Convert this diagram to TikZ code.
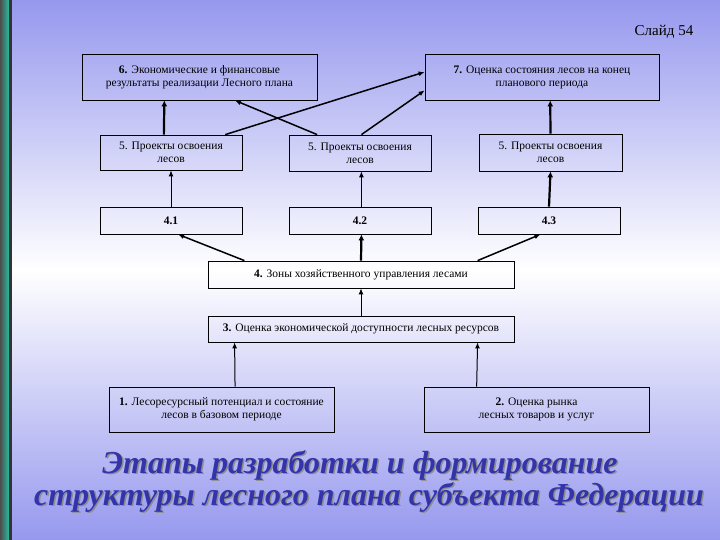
\documentclass[tikz,border=0pt]{standalone}
\usepackage{fontspec}
\setmainfont{Liberation Serif}
\usetikzlibrary{arrows.meta,calc}
\definecolor{bgblue}{RGB}{150,152,238}
\definecolor{titleblue}{RGB}{52,52,170}
\definecolor{tealA}{RGB}{40,190,160}
\tikzset{
 box/.style={draw=black,line width=0.8pt,inner sep=0pt,align=center,font=\fontsize{11.5}{13}\selectfont},
 thin/.style={line width=1pt,-{Latex[length=6pt,width=5pt]}},
 thick/.style={line width=2.2pt,-{Latex[length=6pt,width=6pt]}},
 ttl/.style={font=\fontsize{32}{34}\selectfont\bfseries\itshape}
}
\begin{document}
\begin{tikzpicture}[x=1pt,y=-1pt]
\useasboundingbox (0,0) rectangle (720,540);
\shade[top color=bgblue,bottom color=white] (0,0) rectangle (720,270);
\shade[top color=white,bottom color=bgblue] (0,270) rectangle (720,540);
\shade[left color=black!70,right color=tealA] (0,0) rectangle (9,540);
\fill[black!80] (9,0) rectangle (12,540);
\node[font=\fontsize{15}{17}\selectfont] (sl) at (664,32) {Слайд 54};
% boxes
\node[box,minimum width=235,minimum height=46] (b6) at (199.5,77) {\textbf{6.} Экономические и финансовые\\результаты реализации Лесного плана};
\node[box,minimum width=234,minimum height=46] (b7) at (542,77) {\textbf{7.} Оценка состояния лесов на конец\\планового периода};
\node[box,minimum width=142,minimum height=35] (b5a) at (171,152.5) {5. Проекты освоения\\лесов};
\node[box,minimum width=142,minimum height=36] (b5b) at (360,153) {5. Проекты освоения\\лесов};
\node[box,minimum width=143,minimum height=37] (b5c) at (550.5,152.5) {5. Проекты освоения\\лесов};
\node[box,minimum width=142,minimum height=27] (b41) at (171,220.5) {\textbf{4.1}};
\node[box,minimum width=142,minimum height=27] (b42) at (360,220.5) {\textbf{4.2}};
\node[box,minimum width=142,minimum height=27] (b43) at (549,220.5) {\textbf{4.3}};
\node[box,minimum width=306,minimum height=27] (b4) at (361,274.5) {\textbf{4.} Зоны хозяйственного управления лесами};
\node[box,minimum width=306,minimum height=26] (b3) at (361,329) {\textbf{3.} Оценка экономической доступности лесных ресурсов};
\node[box,minimum width=225,minimum height=45] (b1) at (221.5,409.5) {\textbf{1.} Лесоресурсный потенциал и состояние\\лесов в базовом периоде};
\node[box,minimum width=225,minimum height=45] (b2) at (536.5,409.5) {\textbf{2.} Оценка рынка\\лесных товаров и услуг};
% connectors
\draw[thick] ($(b5a.north west)!0.45!(b5a.north east)$) -- ($(b6.south west)!0.351!(b6.south east)$);
\draw[thin,line width=1.5pt] ($(b5a.north west)!0.88!(b5a.north east)$) -- ($(b7.west)+(0,-5)$);
\draw[thin,line width=1.5pt] ($(b5b.north west)!0.2!(b5b.north east)$) -- ($(b6.south west)!0.65!(b6.south east)$);
\draw[thin,line width=1.5pt] ($(b5b.north west)!0.51!(b5b.north east)$) -- ($(b7.south west)+(0,-10)$);
\draw[thick] ($(b5c.north west)!0.5!(b5c.north east)$) -- ($(b7.south west)!0.535!(b7.south east)$);
\draw[thin] (b41.north) -- (b5a.south);
\draw[thin] ($(b42.north west)!0.51!(b42.north east)$) -- ($(b5b.south west)!0.51!(b5b.south east)$);
\draw[thick] (b43.north) -- (b5c.south);
\draw[thin,line width=1.5pt] ($(b4.north west)!0.12!(b4.north east)$) -- ($(b41.south west)!0.55!(b41.south east)$);
\draw[thick] (b4.north) -- ($(b42.south west)!0.51!(b42.south east)$);
\draw[thin,line width=1.5pt] ($(b4.north west)!0.88!(b4.north east)$) -- ($(b43.south west)!0.44!(b43.south east)$);
\draw[thin] (b3.north) -- (b4.south);
\draw[thin] ($(b1.north west)!0.56!(b1.north east)$) -- ($(b3.south west)!0.088!(b3.south east)$);
\draw[thin] ($(b2.north west)!0.235!(b2.north east)$) -- ($(b3.south west)!0.88!(b3.south east)$);
% title
\node[ttl,text=black!45] (t1s) at (361.5,466.5) {Этапы разработки и формирование};
\node[ttl,text=titleblue] (t1) at (360,465) {Этапы разработки и формирование};
\node[ttl,text=black!45] (t2s) at (370.5,498.5) {структуры лесного плана субъекта Федерации};
\node[ttl,text=titleblue] (t2) at (369,497) {структуры лесного плана субъекта Федерации};
\end{tikzpicture}
\end{document}
